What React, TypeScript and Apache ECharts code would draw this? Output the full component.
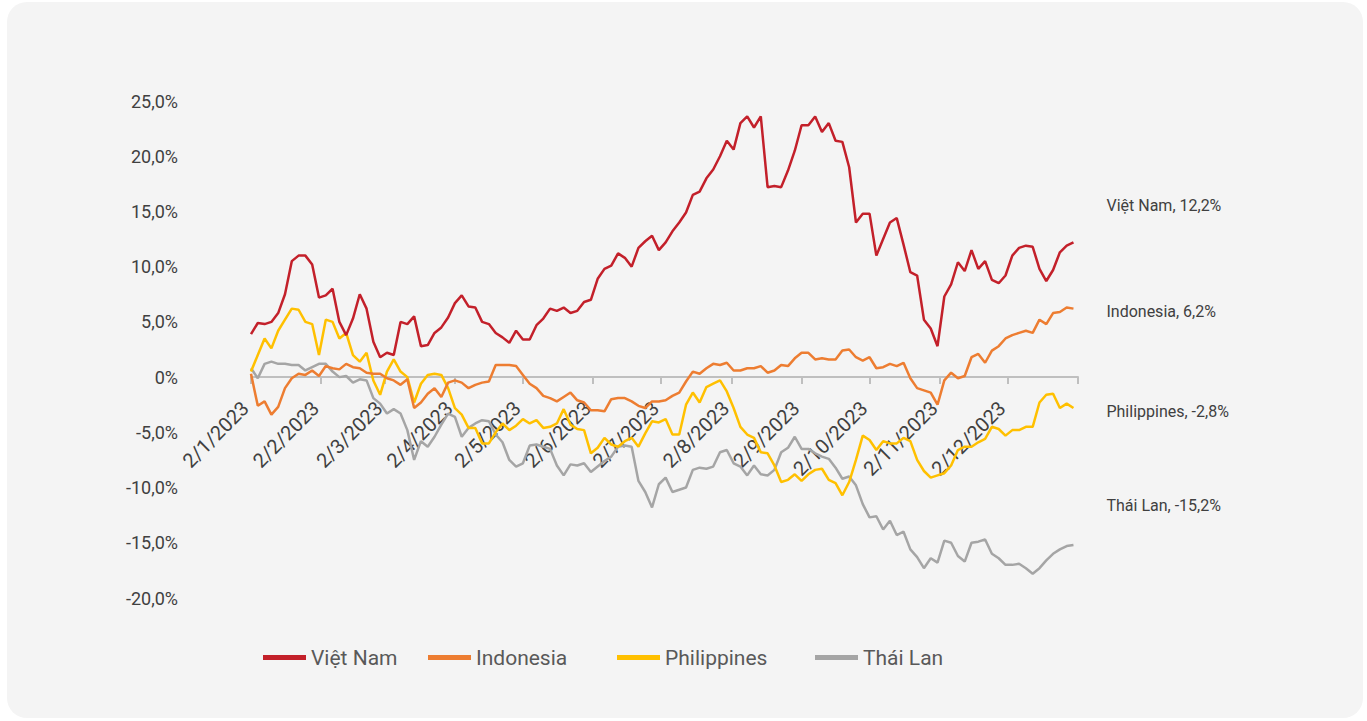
import React, { useEffect, useRef } from "react";
import * as echarts from "echarts";

// Sample spacing: one reading every 3 calendar days from 2 Jan 2023
const START_DATE = "2023-01-02";
const STEP_DAYS = 3;
const AXIS_END = "2024-01-02";
const TICK_DATES = [
  "2023-01-02", "2023-02-02", "2023-03-02", "2023-04-02", "2023-05-02", "2023-06-02",
  "2023-07-02", "2023-08-02", "2023-09-02", "2023-10-02", "2023-11-02", "2023-12-02",
];
const Y_TICKS = [-20, -15, -10, -5, 0, 5, 10, 15, 20, 25];

const SERIES_NAMES = ["Việt Nam", "Indonesia", "Philippines", "Thái Lan"];
const COLORS = ["#C3202A", "#ED7D31", "#FFC000", "#A5A5A5"];

const VIET_NAM = [
  3.9, 4.9, 4.8, 5.0, 5.8, 7.5, 10.5, 11.0, 11.0, 10.2,
  7.2, 7.4, 8.0, 5.0, 3.8, 5.3, 7.5, 6.2, 3.2, 1.8,
  2.2, 2.0, 5.0, 4.8, 5.5, 2.8, 2.9, 4.0, 4.5, 5.4,
  6.7, 7.4, 6.4, 6.3, 5.0, 4.8, 4.0, 3.6, 3.1, 4.2,
  3.4, 3.4, 4.7, 5.3, 6.2, 6.0, 6.3, 5.8, 6.0, 6.8,
  7.0, 8.9, 9.8, 10.1, 11.2, 10.8, 10.0, 11.7, 12.3, 12.8,
  11.5, 12.2, 13.2, 14.0, 14.9, 16.5, 16.8, 18.0, 18.8, 20.0,
  21.4, 20.6, 23.0, 23.6, 22.6, 23.6, 17.2, 17.3, 17.2, 18.7,
  20.5, 22.8, 22.8, 23.6, 22.2, 23.0, 21.4, 21.3, 19.0, 14.0,
  14.8, 14.8, 11.0, 12.5, 14.0, 14.4, 12.0, 9.5, 9.2, 5.2,
  4.4, 2.8, 7.3, 8.4, 10.4, 9.6, 11.5, 9.8, 10.5, 8.8,
  8.5, 9.2, 11.0, 11.7, 11.9, 11.8, 9.8, 8.7, 9.7, 11.3,
  11.9, 12.2,
];

const INDONESIA = [
  0.3, -2.6, -2.2, -3.4, -2.7, -1.0, -0.1, 0.3, 0.2, 0.6,
  0.1, 1.0, 0.8, 0.7, 1.2, 0.9, 0.8, 0.4, 0.3, 0.3,
  -0.1, -0.3, -0.7, -0.2, -2.8, -2.3, -1.5, -1.0, -1.8, -0.5,
  -0.3, -0.5, -1.0, -0.7, -0.5, -0.4, 1.1, 1.1, 1.1, 1.0,
  0.2, -0.6, -1.0, -1.7, -1.9, -2.2, -1.8, -1.4, -2.1, -2.3,
  -3.0, -3.0, -3.1, -2.0, -1.9, -1.9, -2.2, -2.6, -2.8, -2.2,
  -2.2, -2.1, -1.7, -1.4, -0.4, 0.5, 0.3, 0.8, 1.2, 1.1,
  1.3, 0.6, 0.6, 0.8, 0.8, 1.0, 0.4, 0.6, 1.1, 1.0,
  1.7, 2.2, 2.2, 1.6, 1.7, 1.6, 1.6, 2.4, 2.5, 1.8,
  1.5, 1.8, 0.8, 0.9, 1.2, 1.0, 1.3, -0.1, -1.0, -1.2,
  -1.4, -2.5, -0.3, 0.4, -0.1, 0.1, 1.8, 2.1, 1.3, 2.4,
  2.8, 3.5, 3.8, 4.0, 4.2, 4.0, 5.2, 4.8, 5.8, 5.9,
  6.3, 6.2,
];

const PHILIPPINES = [
  0.5, 2.0, 3.5, 2.6, 4.2, 5.2, 6.2, 6.1, 5.0, 4.8,
  2.0, 5.2, 5.0, 3.5, 4.0, 2.0, 1.4, 2.2, -0.3, -1.6,
  0.5, 1.6, 0.5, 0.0, -2.3, -0.6, 0.2, 0.3, 0.2, -1.0,
  -2.8, -3.4, -4.6, -4.6, -6.0, -6.0, -5.0, -4.2, -4.8, -4.4,
  -3.8, -4.2, -3.9, -4.6, -4.5, -4.2, -2.9, -4.3, -4.7, -4.8,
  -6.9, -6.4, -5.5, -6.1, -6.3, -5.8, -5.5, -6.3, -5.1, -4.0,
  -4.1, -3.8, -5.2, -5.2, -2.5, -1.4, -2.3, -0.9, -0.6, -0.3,
  -1.3, -2.8, -4.5, -5.2, -5.5, -6.8, -6.9, -8.0, -9.5, -9.3,
  -8.8, -9.4, -8.8, -8.4, -8.3, -9.3, -9.6, -10.7, -9.5, -7.5,
  -5.3, -5.7, -6.6, -5.8, -6.0, -6.0, -5.5, -5.8, -7.5, -8.5,
  -9.1, -8.9, -8.7, -8.0, -6.6, -6.3, -6.3, -5.9, -5.6, -4.5,
  -4.7, -5.3, -4.8, -4.8, -4.5, -4.5, -2.3, -1.6, -1.5, -2.8,
  -2.4, -2.8,
];

const THAI_LAN = [
  0.8, -0.1, 1.2, 1.4, 1.2, 1.2, 1.1, 1.1, 0.6, 0.9,
  1.2, 1.2, 0.5, 0.0, 0.1, -0.5, -0.2, -0.3, -1.9, -2.4,
  -3.3, -2.9, -3.3, -4.8, -7.5, -5.8, -6.3, -5.4, -4.3, -3.3,
  -3.6, -5.4, -4.6, -4.2, -3.9, -4.0, -5.2, -5.9, -7.5, -8.1,
  -7.8, -6.2, -6.1, -6.3, -6.5, -8.0, -8.9, -7.9, -8.0, -7.8,
  -8.6, -8.1, -7.6, -7.2, -6.3, -6.2, -6.3, -9.4, -10.4, -11.8,
  -9.7, -9.1, -10.4, -10.2, -10.0, -8.4, -8.2, -8.3, -8.1, -6.8,
  -6.6, -7.8, -8.1, -8.9, -8.0, -8.8, -8.9, -8.4, -6.8, -6.4,
  -5.4, -6.5, -6.5, -6.9, -7.2, -7.4, -8.2, -9.2, -9.0, -9.8,
  -11.5, -12.7, -12.6, -13.8, -13.0, -14.3, -14.0, -15.6, -16.3, -17.3,
  -16.4, -16.8, -14.8, -15.0, -16.2, -16.7, -15.0, -14.9, -14.7, -16.0,
  -16.4, -17.0, -17.0, -16.9, -17.3, -17.8, -17.3, -16.6, -16.0, -15.6,
  -15.3, -15.2,
];

const SERIES_VALUES = [VIET_NAM, INDONESIA, PHILIPPINES, THAI_LAN];
// end-label nudges (px) so the labels sit where the reference puts them
const END_LABEL_OFFSETS = [[25, -37], [25, 3], [25, 3], [25, -39]];
// left edge of each legend entry (px, inside the card)
const LEGEND_LEFTS = [251, 416, 605, 803];

const DAY_MS = 86400000;
const parseDay = (s: string) => {
  const [y, m, d] = s.split("-").map(Number);
  return Date.UTC(y, m - 1, d);
};
const startTs = parseDay(START_DATE);
const dayIndex = (s: string) => Math.round((parseDay(s) - startTs) / DAY_MS);

const fmtPct = (v: number) =>
  v === 0 ? "0%" : v.toFixed(1).replace(".", ",") + "%";
const fmtDay = (day: number) => {
  const d = new Date(startTs + day * DAY_MS);
  return `${d.getUTCDate()}/${d.getUTCMonth() + 1}/${d.getUTCFullYear()}`;
};

const GRID_TOP = 99;
const GRID_BOTTOM = 120;
const CHART_H = 716;

export default function App() {
  const ref = useRef<HTMLDivElement>(null);
  useEffect(() => {
    if (!ref.current) return;
    const chart = echarts.init(ref.current, null, { renderer: "svg" });
    const tickDays = TICK_DATES.map(dayIndex);
    const endDay = dayIndex(AXIS_END);
    const yMin = Y_TICKS[0];
    const yMax = Y_TICKS[Y_TICKS.length - 1];
    const plotH = CHART_H - GRID_TOP - GRID_BOTTOM;
    // distance from the grid bottom up to the zero line
    const zeroOffset = (plotH * (0 - yMin)) / (yMax - yMin);
    const option: any = {
      animation: false,
      color: COLORS,
      textStyle: { fontFamily: "Roboto" },
      grid: {
        left: 244,
        right: 285,
        top: GRID_TOP,
        bottom: GRID_BOTTOM,
        containLabel: false,
        outerBoundsMode: "none",
      },
      legend: SERIES_NAMES.map((name, k) => ({
        data: [name],
        left: LEGEND_LEFTS[k],
        top: 640,
        icon: "rect",
        itemWidth: 43,
        itemHeight: 5,
        textStyle: { fontSize: 21, color: "#595959", fontFamily: "Roboto" },
      })),
      xAxis: {
        type: "value",
        min: 0,
        max: endDay,
        position: "bottom",
        offset: -zeroOffset,
        axisLine: { onZero: false, lineStyle: { color: "#BFBFBF", width: 2 } },
        axisTick: {
          show: true,
          length: 7,
          lineStyle: { color: "#BFBFBF", width: 2 },
          customValues: [...tickDays, endDay],
        },
        axisLabel: {
          customValues: tickDays,
          rotate: 45,
          margin: 22,
          padding: [0, 8, 0, 0],
          fontSize: 20,
          color: "#404040",
          fontFamily: "Roboto",
          formatter: (v: number) => fmtDay(v),
        },
        splitLine: { show: false },
      },
      yAxis: {
        type: "value",
        min: yMin,
        max: yMax,
        interval: 5,
        axisLine: { show: false },
        axisTick: { show: false },
        splitLine: { show: false },
        axisLabel: {
          margin: 73,
          fontSize: 18,
          color: "#404040",
          fontFamily: "Roboto",
          formatter: (v: number) => fmtPct(v),
        },
      },
      series: SERIES_NAMES.map((name, k) => ({
        name,
        type: "line",
        showSymbol: false,
        symbol: "none",
        lineStyle: { width: 2.5, color: COLORS[k] },
        itemStyle: { color: COLORS[k] },
        data: SERIES_VALUES[k].map((v, i) => [i * STEP_DAYS, v]),
        endLabel: {
          show: true,
          offset: END_LABEL_OFFSETS[k],
          fontSize: 16,
          color: "#404040",
          fontFamily: "Roboto",
          formatter: (p: any) => `${p.seriesName}, ${fmtPct(p.value[1])}`,
        },
        z: 10 - k,
      })),
    };
    chart.setOption(option);
    return () => chart.dispose();
  }, []);

  return (
    <div
      style={{
        position: "fixed",
        left: 0,
        top: 0,
        width: 1367,
        height: 721,
        background: "#ffffff",
      }}
    >
      <div
        style={{
          position: "absolute",
          left: 7,
          top: 2,
          width: 1356,
          height: CHART_H,
          borderRadius: 20,
          background: "#F4F4F4",
          overflow: "hidden",
        }}
      >
        <div ref={ref} style={{ width: 1356, height: CHART_H }} />
      </div>
    </div>
  );
}
